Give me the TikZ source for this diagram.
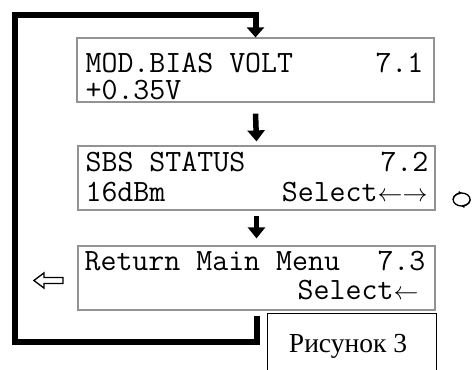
\documentclass[tikz,border=0pt]{standalone}
\usepackage{fontspec}
\usepackage{tikz}
\usetikzlibrary{arrows.meta}
\usetikzlibrary{positioning}
\newfontfamily\capfont{Liberation Serif}
\tikzset{
    lcd_box/.style = {draw=gray!85, line width=1.2pt, minimum width=357pt, minimum height=64pt, inner sep=0pt},
    lcd_text/.style = {inner sep=0pt, font=\fontsize{31}{31}\selectfont\ttfamily},
    flow_arrow/.style = {line width=5.5pt, -{Triangle[width=17pt,length=11pt]}},
    loop_line/.style = {line width=6pt, miter limit=10, -{Triangle[width=17pt,length=10pt]}},
    cap_box/.style = {draw=black, line width=1pt, minimum width=169pt, minimum height=60pt, inner sep=0pt, anchor=north west},
    cap_text/.style = {inner sep=0pt, font=\fontsize{27.5}{27.5}\selectfont\capfont}
}
\newcommand{\kbarrows}[1]{{\fontsize{25}{25}\selectfont$#1$}}

\begin{document}
\begin{tikzpicture}[x=1pt, y=1pt]
    \useasboundingbox[fill=white] (0,0) rectangle (472,370);

    % menu screens
    \node [lcd_box] (box1) at (255.5,300) {};
    \node [lcd_box] (box2) at (256.5,192) {};
    \node [lcd_box] (box3) at (256.5,92) {};

    \node [lcd_text, anchor=base west] (bias) at ([shift={(9pt,-35pt)}]box1.north west) {MOD.BIAS VOLT};
    \node [lcd_text, anchor=base east] (num1) at ([shift={(-11pt,-35pt)}]box1.north east) {7.1};
    \node [lcd_text, anchor=base west] (volt) at ([shift={(9pt,-62pt)}]box1.north west) {+0.35V};

    \node [lcd_text, anchor=base west] (sbs) at ([shift={(8pt,-26pt)}]box2.north west) {SBS STATUS};
    \node [lcd_text, anchor=base east] (num2) at ([shift={(-7pt,-26pt)}]box2.north east) {7.2};
    \node [lcd_text, anchor=base west] (dbm) at ([shift={(8pt,-56pt)}]box2.north west) {16dBm};
    \node [lcd_text, anchor=base east] (sel2) at ([shift={(-8pt,-56pt)}]box2.north east) {Select\kbarrows{\leftarrow\rightarrow}};

    \node [lcd_text, anchor=base west] (ret) at ([shift={(7pt,-25pt)}]box3.north west) {Return Main Menu};
    \node [lcd_text, anchor=base east] (num3) at ([shift={(-10pt,-25pt)}]box3.north east) {7.3};
    \node [lcd_text, anchor=base east] (sel3) at ([shift={(-17pt,-54pt)}]box3.north east) {Select\kbarrows{\leftarrow}};

    % arrows between screens
    \draw [flow_arrow] ([yshift=-11pt]box1.south) -- ([yshift=4pt]box2.north);
    \draw [flow_arrow] ([yshift=-5pt]box2.south) -- ([yshift=7pt]box3.north);

    % return loop
    \coordinate (bl) at (14.5,27.5);
    \coordinate (tl) at (14.5,354.5);
    \draw [loop_line] ([yshift=-5pt]box3.south) |- (bl) -- (tl) -| (box1.north);

    % back key and rotate mark
    \coordinate (back) at ([shift={(-29pt,-2.5pt)}]box3.west);
    \draw [line width=1.3pt, line join=miter] ([xshift=-14.5pt]back) -- ++(10,7.5) -- ++(0,-4.5) -- ++(19,0)
        -- ++(0,-6) -- ++(-19,0) -- ++(0,-4.5) -- cycle;
    \coordinate (rot) at ([shift={(26pt,-21.5pt)}]box2.east);
    \draw [line width=1.3pt] (rot) ellipse [x radius=8.5pt, y radius=6.5pt];
    \draw [line width=1.3pt, -{Latex[length=3.5pt,width=4pt]}] ([xshift=-8.5pt]rot) arc [start angle=180, end angle=86, x radius=8.5pt, y radius=6.5pt];
    \draw [line width=1.3pt, -{Latex[length=3.5pt,width=4pt]}] ([xshift=8.5pt]rot) arc [start angle=0, end angle=-94, x radius=8.5pt, y radius=6.5pt];

    % caption
    \node [cap_box] (capbox) at (267,56.5) {};
    \node [cap_text, anchor=base] (captxt) at (348,17) {Рисунок 3};
\end{tikzpicture}
\end{document}
